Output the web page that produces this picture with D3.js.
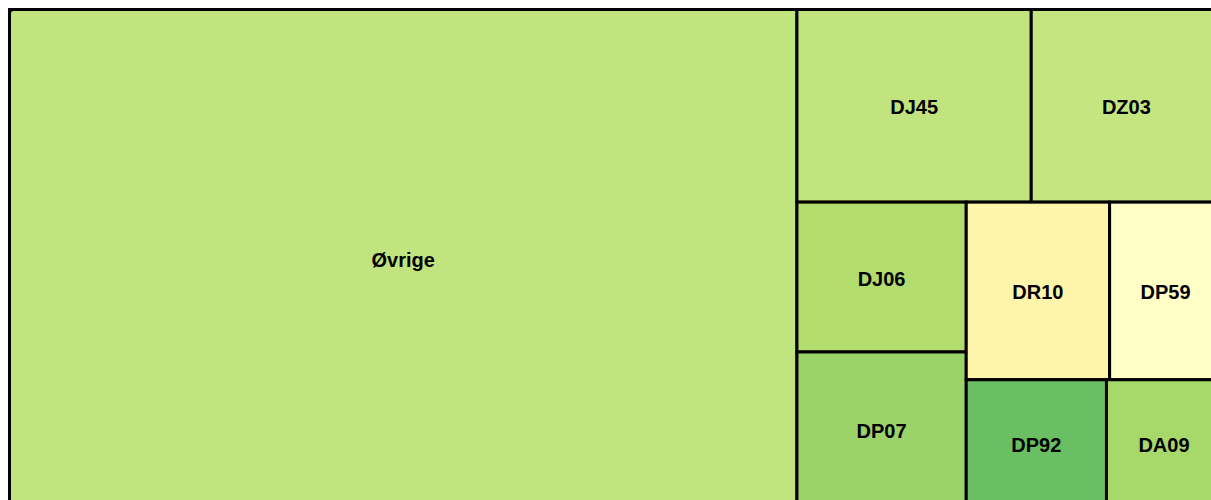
<!DOCTYPE html>
<html>

<head>
    <meta charset="utf-8">
    <script src="https://d3js.org/d3.v7.min.js"></script>
    <style>
        body { margin: 0; background: #fff; }
        svg { display: block; }
    </style>
    <script>
        // data (relative area of each cell)
        let categories = ['Øvrige', 'DJ45', 'DZ03', 'DJ06', 'DP07', 'DR10', 'DP59', 'DP92', 'DA09'];
        let values = [3919, 452, 367, 254, 262, 255, 199, 178, 146];

        // fill colour per cell
        let palette = ['#c2e47e', '#c2e47e', '#c4e57f', '#b3dc6e', '#9cd368', '#fef5aa', '#ffffc6', '#6abf62', '#a6d96a'];

        function draw() {
            let width = 1211;
            let height = 500;

            let svg = d3.select('body').append('svg')
                .attr('width', width)
                .attr('height', height);

            let color = d3.scaleOrdinal()
                .domain(categories)
                .range(palette);

            let root = d3.hierarchy({
                children: categories.map(function (c, i) { return { name: c, value: values[i] }; })
            }).sum(function (d) { return d.value || 0; });

            // the tree map is bigger than the window, it is cut off at right and bottom
            d3.treemap()
                .tile(d3.treemapSquarify.ratio(1))
                .size([1212, 497])
                (root);

            let g = svg.append('g')
                .attr('transform', 'translate(9.5,9.5)');

            let cells = g.selectAll('g.cell')
                .data(root.leaves())
                .enter()
                .append('g')
                .attr('class', 'cell');

            cells.append('rect')
                .attr('x', function (d) { return d.x0; })
                .attr('y', function (d) { return d.y0; })
                .attr('width', function (d) { return d.x1 - d.x0; })
                .attr('height', function (d) { return d.y1 - d.y0; })
                .attr('fill', function (d) { return color(d.data.name); })
                .attr('stroke', '#000')
                .attr('stroke-width', 3);

            cells.append('text')
                .attr('x', function (d) { return (d.x0 + d.x1) / 2; })
                .attr('y', function (d) { return (d.y0 + d.y1) / 2 + 1.5; })
                .attr('text-anchor', 'middle')
                .attr('dominant-baseline', 'central')
                .style('font-family', '"Liberation Sans", Arial, sans-serif')
                .style('font-weight', 'bold')
                .style('font-size', '20px')
                .style('fill', '#000')
                .text(function (d) { return d.data.name; });

            // outer frame with the rounded corner
            g.append('rect')
                .attr('x', 0)
                .attr('y', 0)
                .attr('width', 1212)
                .attr('height', 497)
                .attr('rx', 4)
                .attr('fill', 'none')
                .attr('stroke', '#000')
                .attr('stroke-width', 3);
        }
    </script>
</head>

<body>
    <script>
        draw();
    </script>
</body>

</html>
